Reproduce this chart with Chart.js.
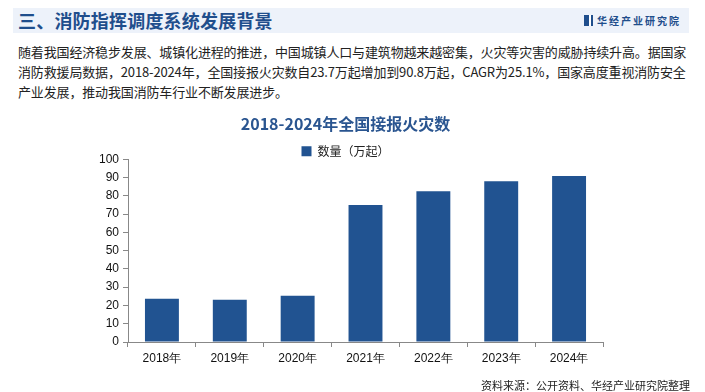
<!DOCTYPE html>
<html>
<head>
<meta charset="utf-8">
<script src="https://cdn.jsdelivr.net/npm/chart.js@4.4.1/dist/chart.umd.min.js"></script>
<style>
  html, body { margin: 0; padding: 0; background: #fff; }
  body { width: 705px; height: 392px; position: relative; overflow: hidden;
         font-family: "Noto Sans CJK SC", "Noto Sans", sans-serif; }
  .band { position: absolute; left: 13px; top: 8px; width: 676px; height: 25px; background: #edf2fa; }
  .band h1 { position: absolute; left: 5px; top: 0; margin: 0; font-size: 18px; line-height: 25px;
             font-weight: bold; color: #1f4e8c; letter-spacing: 0.2px; }
  .logo { position: absolute; right: 8px; top: 0; line-height: 25px; font-size: 10px; font-weight: bold;
          color: #1f4e8c; letter-spacing: 2px; }
  .logo i { display: inline-block; width: 5px; height: 11px; background: #1f4e8c; margin-right: 6px;
            vertical-align: -1px; border-right: 2px solid #fff; box-shadow: 2px 0 0 #1f4e8c; }
  .para { position: absolute; left: 18px; top: 42px; font-size: 13px; line-height: 20px; color: #222;
          white-space: nowrap; letter-spacing: -0.15px; }
  .source { position: absolute; right: 15px; top: 377px; font-size: 11px; color: #222; }
  #wrap { position: absolute; left: 0; top: 108px; width: 705px; height: 270px; }
</style>
</head>
<body>
<div class="band">
  <h1>三、消防指挥调度系统发展背景</h1>
  <div class="logo"><i></i>华经产业研究院</div>
</div>
<div class="para">
随着我国经济稳步发展、城镇化进程的推进，中国城镇人口与建筑物越来越密集，火灾等灾害的威胁持续升高。据国家<br>
消防救援局数据，2018-2024年，全国接报火灾数自23.7万起增加到90.8万起，CAGR为25.1%，国家高度重视消防安全<br>
产业发展，推动我国消防车行业不断发展进步。
</div>
<div id="wrap"><canvas id="fireChart"></canvas></div>
<div class="source">资料来源：公开资料、华经产业研究院整理</div>

<script>
// ===== 数据 =====
const years = ["2018年", "2019年", "2020年", "2021年", "2022年", "2023年", "2024年"];
const fireCounts = [23.7, 23.1, 25.3, 74.9, 82.5, 88.0, 90.8];
const seriesName = "数量（万起）";
const chartTitle = "2018-2024年全国接报火灾数";

const tickFont = { family: "'Liberation Sans', Arial, sans-serif", size: 12 };

const ctx = document.getElementById("fireChart").getContext("2d");
new Chart(ctx, {
  type: "bar",
  data: {
    labels: years,
    datasets: [{
      label: seriesName,
      data: fireCounts,
      backgroundColor: "#215391",
      barPercentage: 0.5,
      categoryPercentage: 1.0
    }]
  },
  options: {
    responsive: true,
    maintainAspectRatio: false,
    animation: false,
    layout: { padding: { left: 88, right: 102, top: 6, bottom: 0 } },
    plugins: {
      title: {
        display: true,
        text: chartTitle,
        color: "#2a5590",
        font: { family: "'Noto Sans CJK SC', sans-serif", size: 16, weight: "bold" },
        padding: { top: 0, bottom: 5 }
      },
      legend: {
        display: true,
        maxHeight: 21,
        labels: {
          boxWidth: 10, boxHeight: 10, color: "#222", padding: 7,
          font: { family: "'Noto Sans CJK SC', sans-serif", size: 12 }
        }
      },
      tooltip: { enabled: false }
    },
    scales: {
      x: {
        grid: { display: true, drawOnChartArea: false, offset: true, tickLength: 5, color: "#888" },
        border: { color: "#888" },
        ticks: { color: "#111", font: tickFont, padding: 4 },
        afterFit: (s) => { s.height = 36; }
      },
      y: {
        min: 0, max: 100,
        grid: { display: true, drawOnChartArea: false, tickLength: 5, color: "#888" },
        border: { color: "#888" },
        ticks: { stepSize: 10, color: "#111", font: tickFont, padding: 4 },
        afterFit: (s) => { s.width = 40; }
      }
    }
  }
});
</script>
</body>
</html>
